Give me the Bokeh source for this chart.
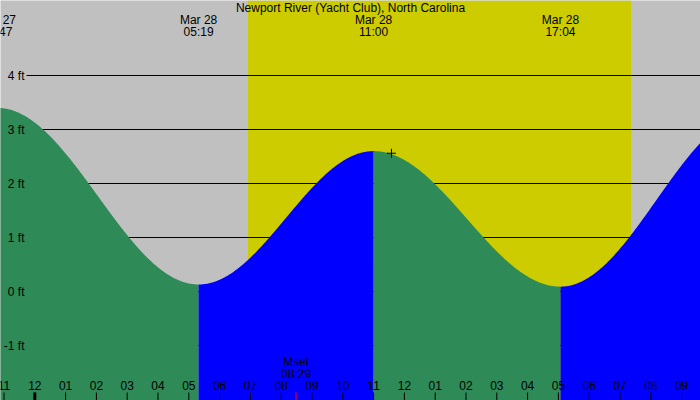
import numpy as np
from bokeh.plotting import figure
from bokeh.models import Range1d
from bokeh.embed import file_html
from bokeh.resources import INLINE
from bokeh.core.properties import value

# ---------------- data ----------------
title = "Newport River (Yacht Club), North Carolina"
# tide extremes: hours after Mar 28 00:00, heights in ft
tide_times = [-1.217, 5.317, 11.0, 17.067, 23.3]
tide_heights = [3.4, 0.13, 2.6, 0.09, 3.3]
tide_date_labels = ["Mar 27", "Mar 28", "Mar 28", "Mar 28"]
tide_time_labels = ["22:47", "05:19", "11:00", "17:04"]
sunrise = 6.92
sunset = 19.36
moonset_time = 8.483
moonset_labels = ["Mset", "08:29"]
hour_ticks = list(range(-1, 22))
hour_labels = ["11", "12", "01", "02", "03", "04", "05", "06", "07", "08", "09", "10",
               "11", "12", "01", "02", "03", "04", "05", "06", "07", "08", "09"]
ft_ticks = [-1, 0, 1, 2, 3, 4]
ft_labels = ["-1 ft", "0 ft", "1 ft", "2 ft", "3 ft", "4 ft"]
now_time = 11.58
now_height = 2.56

# ---------------- layout ----------------
W, H = 700, 400
PX_PER_HR = 30.8
X0_PX = 34.3          # pixel of midnight
PX_PER_FT = 54.0
Y0_PX = 291.0         # pixel of 0 ft
TXT_SHIFT = 4.5       # renderer places baselines lower than requested

x_range = Range1d(-X0_PX / PX_PER_HR, (W - X0_PX) / PX_PER_HR)
y_range = Range1d((Y0_PX - H) / PX_PER_FT, Y0_PX / PX_PER_FT)


def ypx(px):
    return (Y0_PX - (px - TXT_SHIFT)) / PX_PER_FT


def dx(px):
    return px / PX_PER_HR


GRAY = "#C0C0C0"
YELLOW = "#CCCC00"
GREEN = "#2E8B57"
BLUE = "#0000FF"
FONT = value("Liberation Sans")

p = figure(width=W, height=H, x_range=x_range, y_range=y_range,
           output_backend="svg", toolbar_location=None,
           x_axis_type=None, y_axis_type=None, min_border=0,
           background_fill_color=GRAY, border_fill_color=GRAY,
           outline_line_color=None)
p.grid.visible = False

# daylight
p.quad(left=[sunrise], right=[sunset], bottom=[y_range.start], top=[y_range.end],
       fill_color=YELLOW, line_color=None)

# horizontal ft lines
gx0 = x_range.start + dx(26)
p.segment(x0=[gx0] * len(ft_ticks), y0=ft_ticks, x1=[x_range.end] * len(ft_ticks),
          y1=ft_ticks, line_color="black", line_width=1)

# tide curve (cosine shape between extremes)
for i in range(len(tide_times) - 1):
    t0, t1 = tide_times[i], tide_times[i + 1]
    h0, h1 = tide_heights[i], tide_heights[i + 1]
    t = np.linspace(t0, t1, 240)
    h = h1 + (h0 - h1) * (1 + np.cos(np.pi * (t - t0) / (t1 - t0))) / 2
    color = GREEN if h0 > h1 else BLUE
    p.varea(x=t, y1=np.full_like(t, y_range.start - 1), y2=h,
            fill_color=color)

# current position marker
p.scatter(x=[now_time], y=[now_height], marker="cross", size=9,
          line_color="black", line_width=1)

# title & extreme labels
p.text(x=[(x_range.start + x_range.end) / 2], y=[ypx(12)], text=[title],
       text_font=FONT, text_font_size="12px", text_align="center",
       text_baseline="alphabetic", text_color="black")
p.text(x=tide_times[:4], y=[ypx(24)] * 4, text=tide_date_labels,
       text_font=FONT, text_font_size="12px", text_align="center",
       text_baseline="alphabetic", text_color="black")
p.text(x=tide_times[:4], y=[ypx(36)] * 4, text=tide_time_labels,
       text_font=FONT, text_font_size="12px", text_align="center",
       text_baseline="alphabetic", text_color="black")

# y labels
p.text(x=[x_range.start + dx(24)] * len(ft_ticks), y=ft_ticks, text=ft_labels,
       text_font=FONT, text_font_size="12px", text_align="right",
       text_baseline="middle", text_color="black")

# hour ticks and labels
ybot = y_range.start
ytick = ybot + 8 / PX_PER_FT
p.segment(x0=hour_ticks, y0=[ybot] * len(hour_ticks), x1=hour_ticks,
          y1=[ytick] * len(hour_ticks), line_color="black", line_width=1)
p.segment(x0=[0], y0=[ybot], x1=[0], y1=[ytick], line_color="black", line_width=3)
p.text(x=hour_ticks, y=[ypx(389)] * len(hour_ticks), text=hour_labels,
       text_font=FONT, text_font_size="12px", text_align="center",
       text_baseline="alphabetic", text_color="black")

# moonset
p.segment(x0=[moonset_time], y0=[ybot], x1=[moonset_time], y1=[ytick],
          line_color="red", line_width=1)
p.text(x=[moonset_time] * 2, y=[ypx(366), ypx(378)], text=moonset_labels,
       text_font=FONT, text_font_size="12px", text_align="center",
       text_baseline="alphabetic", text_color="black")

open("out.html", "w").write(file_html(p, INLINE))
